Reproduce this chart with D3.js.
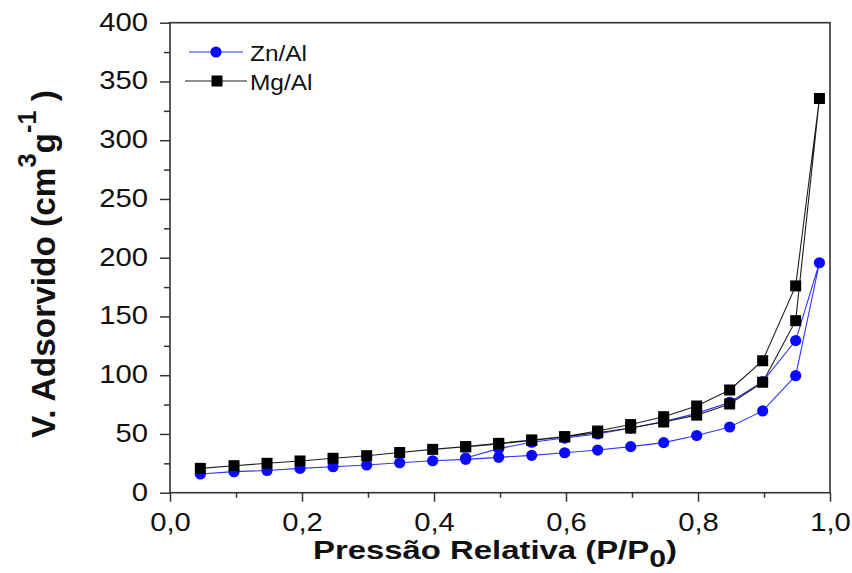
<!DOCTYPE html>
<html>
<head>
<meta charset="utf-8">
<script src="https://cdn.jsdelivr.net/npm/d3@7"></script>
<style>
  html, body { margin: 0; padding: 0; background: #fff; }
  svg { display: block; font-family: "Liberation Sans", Arial, sans-serif; }
</style>
</head>
<body>
<svg id="chart" width="852" height="573"></svg>
<script>
// N2 isotherm: relative pressure (P/P0) for the adsorption and desorption branches
const pAds = [0.046, 0.097, 0.147, 0.197, 0.247, 0.298, 0.348, 0.398, 0.448, 0.498,
              0.548, 0.598, 0.648, 0.698, 0.748, 0.798, 0.848, 0.898, 0.948, 0.984];
const pDes = [0.948, 0.898, 0.848, 0.798, 0.748, 0.698, 0.648, 0.598, 0.548, 0.498, 0.448];

// Adsorbed volume (cm3/g)
const znAlAds = [15.9, 17.9, 18.9, 20.7, 22.1, 23.6, 25.5, 27.2, 28.4, 30.1,
                 31.8, 34.0, 36.3, 39.2, 42.6, 48.7, 55.9, 69.6, 99.6, 195.7];
const znAlDes = [129.5, 94.5, 77.0, 67.5, 60.5, 55.0, 50.0, 46.5, 43.0, 37.5, 29.5];
const mgAlAds = [20.7, 23.0, 25.0, 27.0, 29.3, 31.5, 34.2, 36.9, 39.2, 42.0,
                 44.9, 47.7, 52.5, 58.0, 64.7, 73.8, 87.4, 112.3, 176.0, 335.5];
const mgAlDes = [146.4, 94.0, 75.5, 66.0, 60.2, 55.0, 51.0, 47.5, 44.5, 41.5, 39.0];

const seriesNames = ["Zn/Al", "Mg/Al"];

const xTicks = [0, 0.2, 0.4, 0.6, 0.8, 1.0];
const xMinorTicks = [0.1, 0.3, 0.5, 0.7, 0.9];
const yTicks = [0, 50, 100, 150, 200, 250, 300, 350, 400];
const yMinorTicks = [25, 75, 125, 175, 225, 275, 325, 375];

// Full measurement path: adsorption up, then desorption back down
function branchPoints(pa, va, pd, vd) {
  return pa.map((p, i) => [p, va[i]]).concat(pd.map((p, i) => [p, vd[i]]));
}
const series = [
  { name: seriesNames[0], pts: branchPoints(pAds, znAlAds, pDes, znAlDes),
    line: "#3434ff", fill: "#0a0aff", symbol: "circle" },
  { name: seriesNames[1], pts: branchPoints(pAds, mgAlAds, pDes, mgAlDes),
    line: "#1e1e1e", fill: "#000", symbol: "square" }
];

const svg = d3.select("#chart");
const plot = { left: 170, right: 830, top: 22.7, bottom: 492.7 };

const x = d3.scaleLinear().domain([0, 1]).range([plot.left, plot.right]);
const y = d3.scaleLinear().domain([0, 400]).range([plot.bottom, plot.top]);

const ptBR = d3.formatLocale({ decimal: ",", thousands: ".", grouping: [3], currency: ["R$", ""] });
const fmtX = ptBR.format(".1f");

const axisColor = "#333";
const textColor = "#111";
const stretch = 1.17;

function styleAxis(g) {
  g.select(".domain").remove();
  g.selectAll(".tick line").attr("stroke", axisColor).attr("stroke-width", 1.5);
}

// Bottom axis
svg.append("g")
  .attr("transform", `translate(0,${plot.bottom})`)
  .call(d3.axisBottom(x).tickValues(xMinorTicks).tickSize(5).tickFormat(""))
  .call(styleAxis);
const gx = svg.append("g")
  .attr("transform", `translate(0,${plot.bottom})`)
  .call(d3.axisBottom(x).tickValues(xTicks).tickSize(9).tickFormat(fmtX))
  .call(styleAxis);
gx.selectAll(".tick text")
  .attr("y", 38).attr("dy", 0)
  .attr("transform", `scale(${stretch},1)`)
  .attr("font-size", 25).attr("font-family", "Liberation Sans, Arial, sans-serif")
  .attr("fill", textColor);

// Left axis
svg.append("g")
  .attr("transform", `translate(${plot.left},0)`)
  .call(d3.axisLeft(y).tickValues(yMinorTicks).tickSize(6).tickFormat(""))
  .call(styleAxis);
const gy = svg.append("g")
  .attr("transform", `translate(${plot.left},0)`)
  .call(d3.axisLeft(y).tickValues(yTicks).tickSize(10).tickFormat(d3.format("d")))
  .call(styleAxis);
gy.selectAll(".tick text")
  .attr("x", -22 / stretch).attr("dy", "0.3em")
  .attr("transform", `scale(${stretch},1)`)
  .attr("font-size", 25).attr("font-family", "Liberation Sans, Arial, sans-serif")
  .attr("fill", textColor);

// Frame
svg.append("rect")
  .attr("x", plot.left).attr("y", plot.top)
  .attr("width", plot.right - plot.left).attr("height", plot.bottom - plot.top)
  .attr("fill", "none").attr("stroke", axisColor).attr("stroke-width", 1.6);

// Series: lines and markers
const line = d3.line().x(d => x(d[0])).y(d => y(d[1]));
function drawMarker(g, sym, cx, cy, fill) {
  if (sym === "circle") {
    g.append("circle").attr("cx", cx).attr("cy", cy).attr("r", 5.6).attr("fill", fill);
  } else {
    g.append("rect").attr("x", cx - 5.5).attr("y", cy - 5.5)
      .attr("width", 11).attr("height", 11).attr("fill", fill);
  }
}
series.forEach(s => {
  const g = svg.append("g");
  g.append("path").datum(s.pts).attr("d", line)
    .attr("fill", "none").attr("stroke", s.line).attr("stroke-width", 1.1);
  s.pts.forEach(d => drawMarker(g, s.symbol, x(d[0]), y(d[1]), s.fill));
});

// Legend
const legendRows = [
  { s: series[0], y: 52, x1: 189, x2: 243, mx: 216 },
  { s: series[1], y: 81, x1: 185, x2: 247, mx: 217 }
];
legendRows.forEach(r => {
  const g = svg.append("g");
  g.append("line").attr("x1", r.x1).attr("x2", r.x2).attr("y1", r.y).attr("y2", r.y)
    .attr("stroke", r.s.line).attr("stroke-width", 1.1);
  drawMarker(g, r.s.symbol, r.mx, r.y, r.s.fill);
  g.append("text")
    .attr("transform", `translate(250,${r.y + 8.5}) scale(1.11,1)`)
    .attr("font-size", 22).attr("fill", textColor)
    .text(r.s.name);
});

// Axis titles
function fitWidth(sel, target, baseTransform) {
  const w = sel.node().getComputedTextLength();
  sel.attr("transform", `${baseTransform} scale(${target / w},1)`);
}

const xTitle = svg.append("text")
  .attr("text-anchor", "middle")
  .attr("font-size", 25).attr("font-weight", "bold").attr("fill", textColor);
xTitle.append("tspan").text("Pressão Relativa (P/P");
xTitle.append("tspan").attr("dy", 8).attr("font-size", 23).text("0");
xTitle.append("tspan").attr("dy", -8).text(")");
fitWidth(xTitle, 364, "translate(495,558.5)");

const yTitle = svg.append("text")
  .attr("text-anchor", "middle")
  .attr("font-size", 33).attr("font-weight", "bold").attr("fill", textColor);
yTitle.append("tspan").text("V. Adsorvido (cm");
yTitle.append("tspan").attr("dy", -19).attr("font-size", 25).text("3");
yTitle.append("tspan").attr("dy", 19).text("g");
yTitle.append("tspan").attr("dy", -19).attr("font-size", 25).text("-1");
yTitle.append("tspan").attr("dy", 19).text(" )");
fitWidth(yTitle, 348, "translate(55,264) rotate(-90)");
</script>
</body>
</html>
